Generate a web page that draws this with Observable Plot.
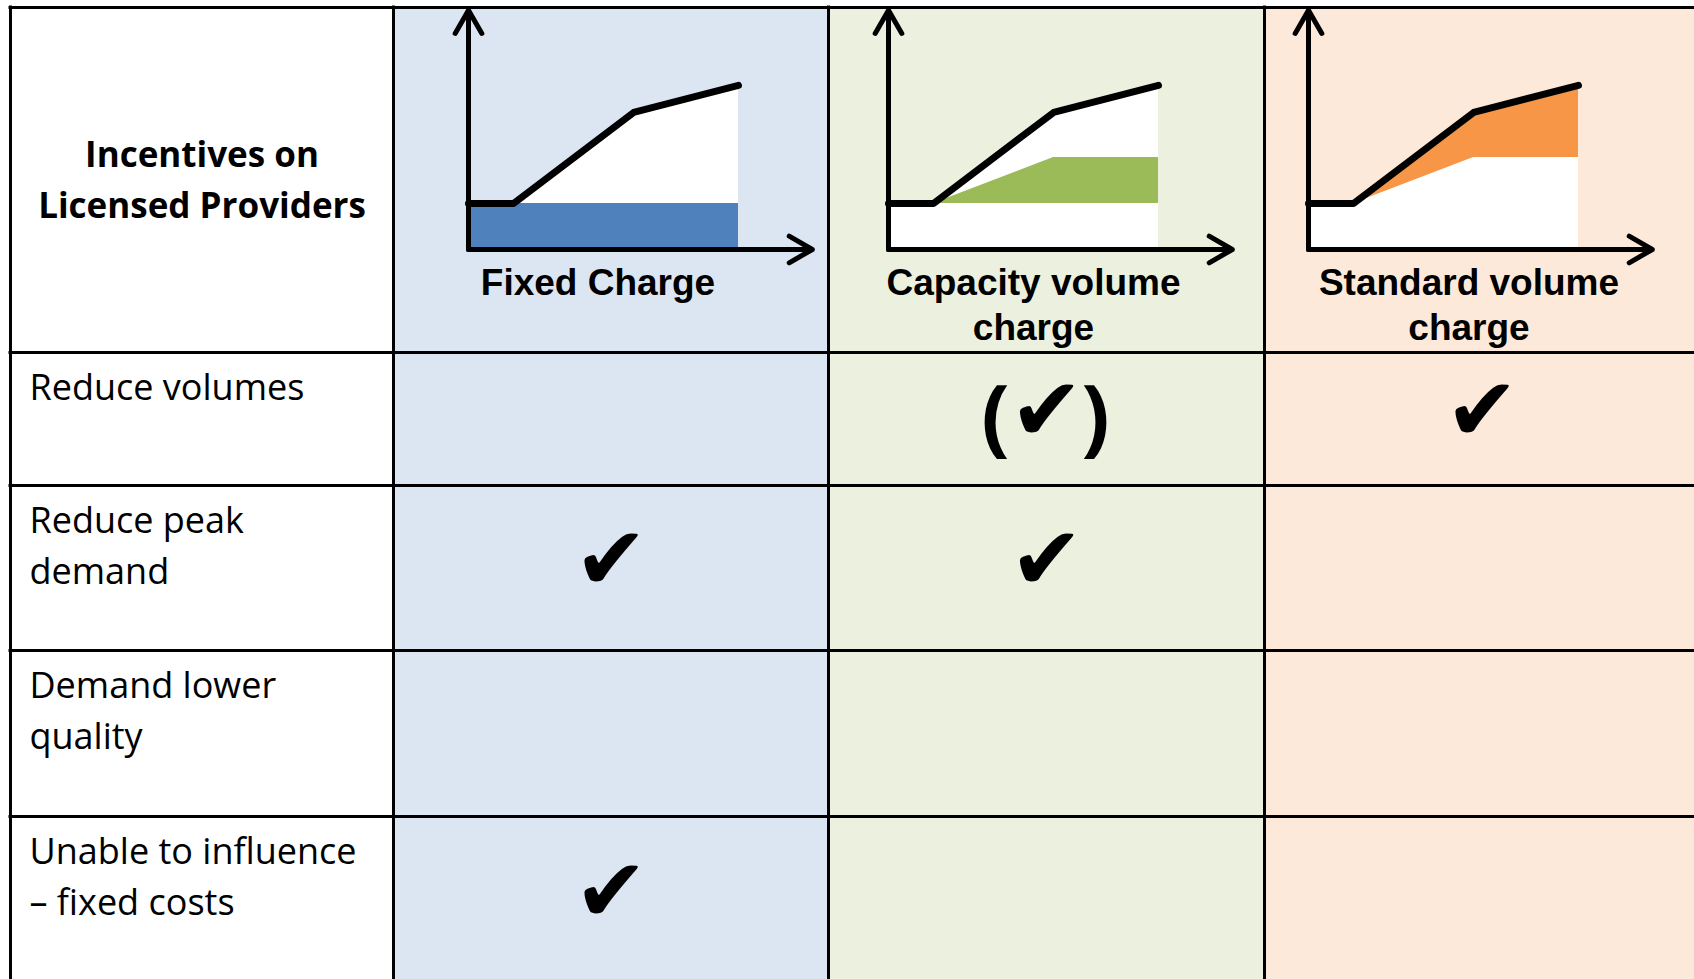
<!DOCTYPE html>
<html>
<head>
<meta charset="utf-8">
<script src="https://cdn.jsdelivr.net/npm/d3@7"></script>
<script src="https://cdn.jsdelivr.net/npm/@observablehq/plot@0.6"></script>
<style>
html, body { margin: 0; padding: 0; background: #ffffff; }
#chart svg { display: block; }
</style>
</head>
<body>
<div id="chart"></div>
<script>
// ---------------- data ----------------
const cornerTitle = "Incentives on\nLicensed Providers";
const chargeTypes = ["Fixed Charge", "Capacity volume\ncharge", "Standard volume\ncharge"];
const incentives = [
  "Reduce volumes",
  "Reduce peak\ndemand",
  "Demand lower\nquality",
  "Unable to influence\n– fixed costs"
];
// 1 = ✔, 0.5 = (✔), 0 = blank  (one entry per incentive row)
const fixedTicks    = [0, 1, 0, 1];
const capacityTicks = [0.5, 1, 0, 0];
const standardTicks = [1, 0, 0, 0];

// schematic tariff: charge against volume
const volume        = [0, 1, 3.67, 6];
const totalCharge   = [1, 1, 2.98, 3.57];
const fixedLevel    = [1, 1, 1, 1];
const capacityLevel = [1, 1, 2, 2];
const axisVolumeMax = 7.64;
const axisChargeMax = 5.2;

// ---------------- layout & style ----------------
const W = 1694, H = 979;
const colEdges = [10, 393, 828, 1264, 1699];
const rowEdges = [7, 352, 485, 650, 816, 982];
const panelOriginX = [468, 888, 1308];
const axisY = 249;
const unitX = 45, unitY = 46;
const colFills = ["#ffffff", "#dce6f2", "#ebf1de", "#fde9d9"];
const bandFills = ["#4f81bd", "#9bbb59", "#f79646"];

const tickRows = [fixedTicks, capacityTicks, standardTicks];

const columns = colFills.map((fill, i) => ({x1: colEdges[i], x2: i === 3 ? W + 10 : colEdges[i + 1], fill}));
const headers = chargeTypes.map((name, i) => ({name, cx: (colEdges[i + 1] + colEdges[i + 2]) / 2}));
const rows = incentives.map((label, r) => ({label, top: rowEdges[r + 1], bottom: rowEdges[r + 2]}));

const pts = [];
chargeTypes.forEach((name, i) => {
  volume.forEach((v, k) => {
    const ys = [0, fixedLevel[k], capacityLevel[k], totalCharge[k]];
    pts.push({
      panel: i,
      px: panelOriginX[i] + v * unitX,
      base: axisY,
      total: axisY - totalCharge[k] * unitY,
      lo: axisY - ys[i] * unitY,
      hi: axisY - ys[i + 1] * unitY,
      fill: bandFills[i]
    });
  });
});
const axes = panelOriginX.map((ox) => ({ox}));

const ticks = [];
tickRows.forEach((arr, c) => arr.forEach((t, r) => {
  if (t > 0) ticks.push({cx: headers[c].cx, cy: (rows[r].top + rows[r].bottom) / 2, partial: t < 1});
}));

const chart = Plot.plot({
  width: W,
  height: H,
  margin: 0,
  x: {domain: [0, W], range: [0, W], axis: null},
  y: {domain: [0, H], range: [0, H], axis: null},
  color: {type: "identity"},
  style: {background: "#ffffff"},
  marks: [
    // column shading
    Plot.rect(columns, {x1: "x1", x2: "x2", y1: () => rowEdges[0], y2: () => H + 10, fill: "fill"}),
    // white area under the tariff curve
    Plot.areaY(pts, {x: "px", y1: "base", y2: "total", z: "panel", fill: "#ffffff"}),
    // coloured charge component
    Plot.areaY(pts, {x: "px", y1: "lo", y2: "hi", z: "panel", fill: "fill"}),
    // tariff curve
    Plot.line(pts, {x: "px", y: "total", z: "panel", stroke: "#000000", strokeWidth: 7}),
    // axes with arrowheads
    Plot.arrow(axes, {x1: "ox", y1: () => axisY, x2: "ox", y2: () => axisY - axisChargeMax * unitY,
      stroke: "#000000", strokeWidth: 5, headLength: 8, strokeLinecap: "round", strokeLinejoin: "round"}),
    Plot.arrow(axes, {x1: "ox", y1: () => axisY, x2: (d) => d.ox + axisVolumeMax * unitX, y2: () => axisY,
      stroke: "#000000", strokeWidth: 5, headLength: 8, strokeLinecap: "round", strokeLinejoin: "round"}),
    // table grid
    Plot.ruleX(colEdges.slice(0, 4), {x: (d) => d, y1: rowEdges[0] - 1.5, y2: H + 10, stroke: "#000000", strokeWidth: 3}),
    Plot.ruleY(rowEdges.slice(0, 5), {y: (d) => d, x1: colEdges[0] - 1.5, x2: W + 10, stroke: "#000000", strokeWidth: 3}),
    // corner title
    Plot.text([cornerTitle], {x: () => (colEdges[0] + colEdges[1]) / 2, y: () => (rowEdges[0] + rowEdges[1]) / 2,
      text: (d) => d, dy: -4, fontSize: 35, fontWeight: "bold", fontFamily: "'Open Sans', sans-serif",
      lineHeight: 1.46, lineAnchor: "middle", fill: "#000000"}),
    // column headers
    Plot.text(headers, {x: "cx", y: () => axisY, text: "name", dx: -13, dy: 14, lineAnchor: "top",
      fontSize: 37, fontWeight: "bold", fontFamily: "'Liberation Sans', Arial, sans-serif",
      lineHeight: 1.216, fill: "#000000"}),
    // row labels
    Plot.text(rows, {x: () => colEdges[0] + 19, y: "top", text: "label", dy: 11, lineAnchor: "top",
      textAnchor: "start", fontSize: 36, fontFamily: "'Open Sans', sans-serif", lineHeight: 1.417, fill: "#000000"}),
    // ticks
    Plot.text(ticks, {x: "cx", y: "cy", text: () => "\u2714", dy: -7, fontSize: 88,
      fontFamily: "'DejaVu Sans', sans-serif", fill: "#000000"}),
    Plot.text(ticks.filter((d) => d.partial), {x: "cx", y: "cy", text: () => "(", dx: -51, dy: 0, fontSize: 84,
      fontWeight: "bold", fontFamily: "'Open Sans', sans-serif", fill: "#000000"}),
    Plot.text(ticks.filter((d) => d.partial), {x: "cx", y: "cy", text: () => ")", dx: 49, dy: 0, fontSize: 84,
      fontWeight: "bold", fontFamily: "'Open Sans', sans-serif", fill: "#000000"})
  ]
});
document.getElementById("chart").appendChild(chart);
</script>
</body>
</html>
